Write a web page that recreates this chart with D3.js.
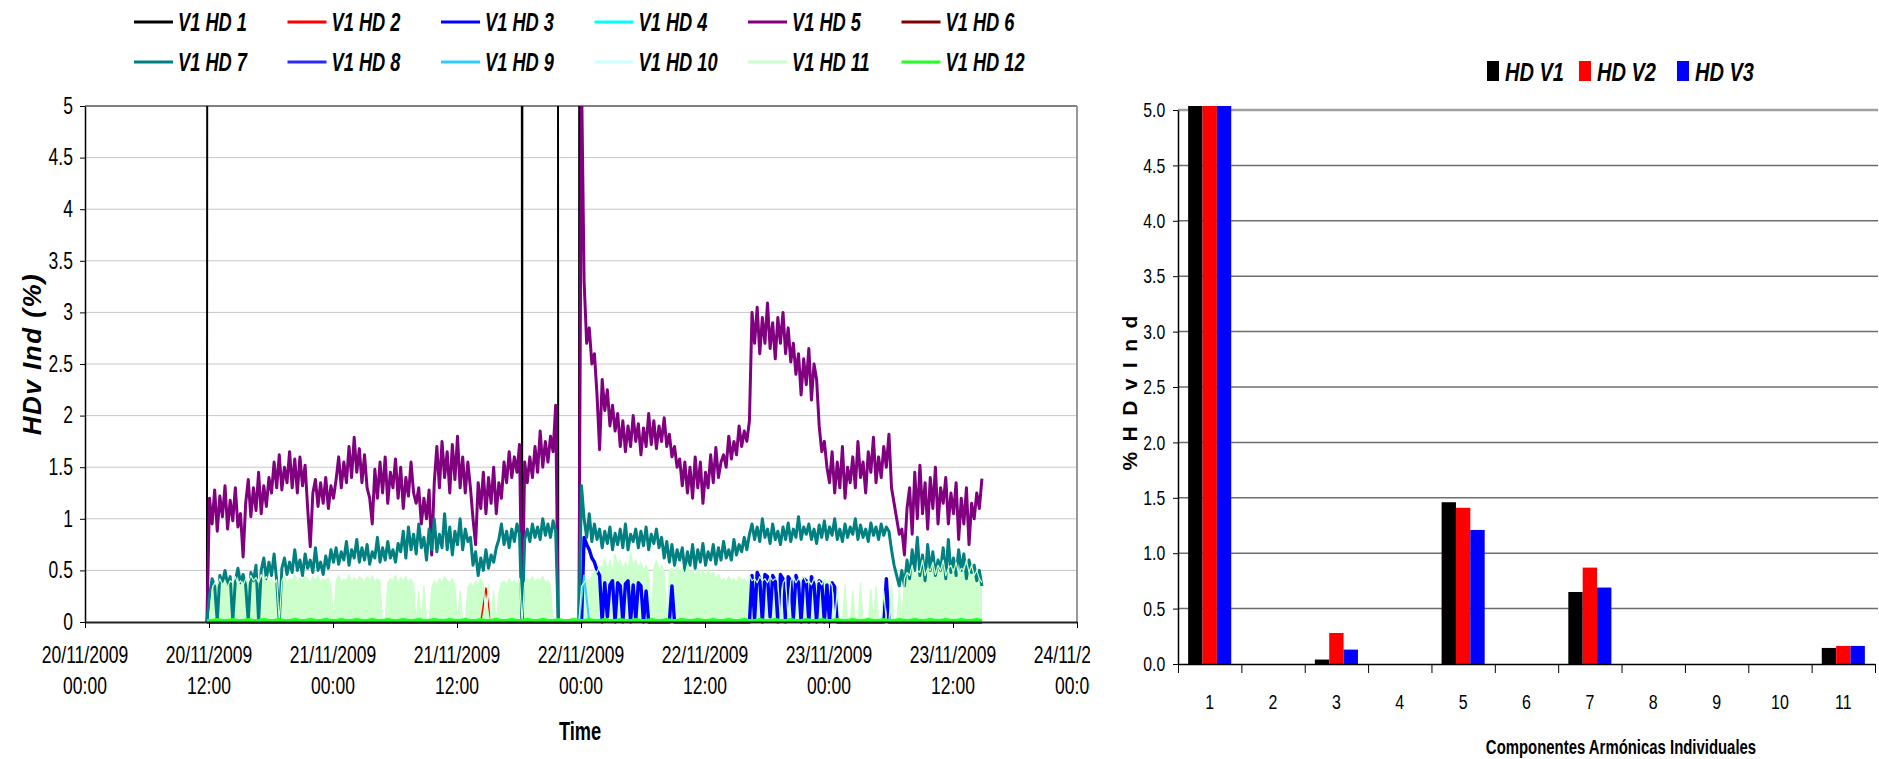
<!DOCTYPE html>
<html>
<head>
<meta charset="utf-8">
<script src="https://cdn.jsdelivr.net/npm/d3@7"></script>
<style>
  body { margin: 0; background: #fff; }
  svg { display: block; font-family: "Liberation Sans", Arial, sans-serif; }
</style>
</head>
<body>
<svg id="chart" width="1879" height="759"></svg>
<script>
// ---- left chart: samples start 20/11/2009 11:48 ----
const sampleStart = '2009-11-20 11:48';
const coarseStep = 30;   // minutes
const fineStep = 15;     // minutes
const timeDomain = ['2009-11-20 00:00', '2009-11-24 00:00'];
const timeTicks = ['2009-11-20 00:00', '2009-11-20 12:00', '2009-11-21 00:00', '2009-11-21 12:00',
  '2009-11-22 00:00', '2009-11-22 12:00', '2009-11-23 00:00', '2009-11-23 12:00', '2009-11-24 00:00'];
const leftYTicks = [0, 0.5, 1, 1.5, 2, 2.5, 3, 3.5, 4, 4.5, 5];

const seriesNames = ['V1 HD 1', 'V1 HD 2', 'V1 HD 3', 'V1 HD 4', 'V1 HD 5', 'V1 HD 6',
  'V1 HD 7', 'V1 HD 8', 'V1 HD 9', 'V1 HD 10', 'V1 HD 11', 'V1 HD 12'];
const seriesColors = ['#000000', '#ff0000', '#0000ff', '#00ffff', '#800080', '#800000',
  '#008080', '#2a2aff', '#33ccff', '#ccffff', '#ccffcc', '#22ff22'];

// 30 min samples
const hd1 = [
  0, 100, 100, 100, 100, 100, 100, 100, 100, 100,
  100, 100, 100, 100, 100, 100, 100, 100, 100, 100,
  100, 100, 100, 100, 100, 100, 100, 100, 100, 100,
  100, 100, 100, 100, 100, 100, 100, 100, 100, 100,
  100, 100, 100, 100, 100, 100, 100, 100, 100, 100,
  100, 100, 100, 100, 100, 100, 100, 100, 100, 100,
  100, 0, 100, 100, 100, 100, 100, 100, 0, 0,
  0, 0, 0, 100, 100, 100, 100, 100, 100, 100,
  100, 100, 100, 100, 100, 100, 100, 100, 100, 100,
  100, 100, 100, 100, 100, 100, 100, 100, 100, 100,
  100, 100, 100, 100, 100, 100, 100, 100, 100, 100,
  100, 100, 100, 100, 100, 100, 100, 100, 100, 100,
  100, 100, 100, 100, 100, 100, 100, 100, 100, 100,
  100, 100, 100, 100, 100, 100, 100, 100, 100, 100,
  100, 100, 100, 100, 100, 100, 100, 100, 100, 100,
  100];
const hd2 = [
  0, 0, 0, 0, 0, 0, 0, 0, 0, 0,  0, 0, 0, 0, 0, 0, 0, 0, 0, 0,
  0, 0, 0, 0, 0, 0, 0, 0, 0, 0,  0, 0, 0, 0, 0, 0, 0, 0, 0, 0,
  0, 0, 0, 0, 0, 0, 0, 0, 0, 0,  0, 0, 0, 0, 0.33, 0, 0, 0, 0, 0,
  0, 0, 0, 0, 0, 0, 0, 0, 0, 0,  0, 0, 0, 0, 0, 0, 0, 0, 0, 0,
  0, 0, 0, 0, 0, 0, 0, 0, 0, 0,  0, 0, 0, 0, 0, 0, 0, 0, 0, 0,
  0, 0, 0, 0, 0, 0, 0, 0, 0, 0,  0, 0, 0, 0, 0, 0, 0, 0, 0, 0,
  0, 0, 0, 0, 0, 0, 0, 0, 0, 0,  0, 0, 0, 0, 0, 0, 0, 0, 0, 0,
  0, 0, 0, 0, 0, 0, 0, 0, 0, 0,  0];
const hd4 = [
  0, 0, 0, 0, 0, 0, 0, 0, 0, 0,  0, 0, 0, 0, 0, 0, 0, 0, 0, 0,
  0, 0, 0, 0, 0, 0, 0, 0, 0, 0,  0, 0, 0, 0, 0, 0, 0, 0, 0, 0,
  0, 0, 0, 0, 0, 0, 0, 0, 0, 0,  0, 0, 0, 0, 0, 0, 0, 0, 0, 0,
  0, 0, 0, 0, 0, 0, 0, 0, 0, 0,  0, 0, 0, 0, 0, 0, 0, 0, 0, 0,
  0, 0, 0, 0, 0, 0, 0, 0, 0, 0,  0, 0, 0, 0, 0, 0, 0, 0, 0, 0,
  0, 0, 0, 0, 0, 0, 0, 0, 0, 0,  0, 0, 0, 0, 0, 0, 0, 0, 0, 0,
  0, 0, 0, 0, 0, 0, 0, 0, 0, 0,  0, 0, 0, 0, 0, 0, 0, 0, 0, 0,
  0, 0, 0, 0, 0, 0, 0, 0, 0, 0,  0];
const hd6 = hd4.slice();
const hd8 = hd4.slice();
const hd9 = [
  0, 0, 0, 0, 0, 0, 0, 0, 0, 0,  0, 0, 0, 0, 0, 0, 0, 0, 0, 0,
  0, 0, 0, 0, 0, 0, 0, 0, 0, 0,  0, 0, 0, 0, 0, 0, 0, 0, 0, 0,
  0, 0, 0, 0, 0, 0, 0, 0, 0, 0,  0, 0, 0, 0, 0, 0, 0, 0, 0, 0,
  0, 0, 0, 0, 0, 0, 0, 0, 0, 0,  0, 0, 0, 0.45, 0, 0, 0, 0, 0, 0,
  0, 0, 0, 0, 0, 0, 0, 0, 0, 0,  0, 0, 0, 0, 0, 0, 0, 0, 0, 0,
  0, 0, 0, 0, 0, 0, 0, 0, 0, 0,  0, 0, 0, 0, 0, 0, 0, 0, 0, 0,
  0, 0, 0, 0, 0, 0, 0, 0, 0, 0,  0, 0, 0, 0, 0, 0, 0, 0, 0, 0,
  0, 0, 0, 0, 0, 0, 0, 0, 0, 0,  0];
const hd10 = hd4.slice();
const hd12 = [
  0.01, 0.01, 0.02, 0.01, 0.01, 0.02, 0.01, 0.01, 0.02, 0.01,
  0.01, 0.02, 0.01, 0.01, 0.02, 0.01, 0.01, 0.02, 0.01, 0.01,
  0.02, 0.01, 0.01, 0.02, 0.01, 0.01, 0.02, 0.01, 0.01, 0.02,
  0.01, 0.01, 0.02, 0.01, 0.01, 0.02, 0.01, 0.01, 0.02, 0.01,
  0.01, 0.02, 0.01, 0.01, 0.02, 0.01, 0.01, 0.02, 0.01, 0.01,
  0.02, 0.01, 0.01, 0.02, 0.01, 0.01, 0.02, 0.01, 0.01, 0.02,
  0.01, 0.01, 0.02, 0.01, 0.01, 0.02, 0.01, 0.01, 0.02, 0.01,
  0.01, 0.02, 0.01, 0.01, 0.02, 0.01, 0.01, 0.02, 0.01, 0.01,
  0.02, 0.01, 0.01, 0.02, 0.01, 0.01, 0.02, 0.01, 0.01, 0.02,
  0.01, 0.01, 0.02, 0.01, 0.01, 0.02, 0.01, 0.01, 0.02, 0.01,
  0.01, 0.02, 0.01, 0.01, 0.02, 0.01, 0.01, 0.02, 0.01, 0.01,
  0.02, 0.01, 0.01, 0.02, 0.01, 0.01, 0.02, 0.01, 0.01, 0.02,
  0.01, 0.01, 0.02, 0.01, 0.01, 0.02, 0.01, 0.01, 0.02, 0.01,
  0.01, 0.02, 0.01, 0.01, 0.02, 0.01, 0.01, 0.02, 0.01, 0.01,
  0.02, 0.01, 0.01, 0.02, 0.01, 0.01, 0.02, 0.01, 0.01, 0.02,
  0.01];

// 15 min samples
const hd3 = [
  0, 0, 0, 0, 0, 0, 0, 0, 0, 0,  0, 0, 0, 0, 0, 0, 0, 0, 0, 0,
  0, 0, 0, 0, 0, 0, 0, 0, 0, 0,  0, 0, 0, 0, 0, 0, 0, 0, 0, 0,
  0, 0, 0, 0, 0, 0, 0, 0, 0, 0,  0, 0, 0, 0, 0, 0, 0, 0, 0, 0,
  0, 0, 0, 0, 0, 0, 0, 0, 0, 0,  0, 0, 0, 0, 0, 0, 0, 0, 0, 0,
  0, 0, 0, 0, 0, 0, 0, 0, 0, 0,  0, 0, 0, 0, 0, 0, 0, 0, 0, 0,
  0, 0, 0, 0, 0, 0, 0, 0, 0, 0,  0, 0, 0, 0, 0, 0, 0, 0, 0, 0,
  0, 0, 0, 0, 0, 0, 0, 0, 0, 0,  0, 0, 0, 0, 0, 0, 0, 0, 0, 0,
  0, 0, 0, 0, 0, 0, 0.82, 0.75, 0.7, 0.62,
  0.58, 0.5, 0.45, 0, 0.38, 0.05, 0.36, 0.4, 0, 0.38,
  0.35, 0, 0.37, 0.4, 0, 0.36, 0.02, 0.38, 0.35, 0,
  0.3, 0, 0, 0, 0, 0, 0, 0, 0, 0,
  0.35, 0, 0, 0, 0, 0, 0, 0, 0, 0,
  0, 0, 0, 0, 0, 0, 0, 0, 0, 0,
  0, 0, 0, 0, 0, 0, 0, 0, 0, 0,
  0, 0.45, 0.02, 0.48, 0.42, 0, 0.46, 0.44, 0.05, 0.45,
  0.4, 0, 0.46, 0.42, 0, 0.44, 0.4, 0.03, 0.45, 0.38,
  0, 0.42, 0.4, 0, 0.44, 0.36, 0, 0.4, 0.38, 0,
  0.36, 0, 0.38, 0.34, 0, 0, 0, 0, 0, 0,
  0, 0, 0, 0, 0, 0, 0, 0, 0, 0,
  0, 0, 0, 0.42, 0, 0, 0, 0, 0, 0,
  0, 0, 0, 0, 0, 0, 0, 0, 0, 0,  0, 0, 0, 0, 0, 0, 0, 0, 0, 0,
  0, 0, 0, 0, 0, 0, 0, 0, 0, 0,
  0];
const hd5 = [
  0, 1.2, 0.95, 1.28, 0.88, 1.22, 1.02, 1.32, 0.9, 1.18,
  0.98, 1.3, 0.92, 1.05, 0.63, 1.15, 1.38, 1.02, 1.3, 1.08,
  1.45, 1.05, 1.32, 1.12, 1.4, 1.25, 1.55, 1.3, 1.62, 1.28,
  1.5, 1.35, 1.65, 1.3, 1.58, 1.25, 1.6, 1.32, 1.52, 1.1,
  0.73, 1.25, 1.38, 1.12, 1.35, 1.15, 1.4, 1.1, 1.32, 1.2,
  1.38, 1.6, 1.3, 1.55, 1.35, 1.7, 1.4, 1.79, 1.45, 1.68,
  1.35, 1.62, 1.3, 1.2, 0.95, 1.48, 1.2, 1.55, 1.25, 1.6,
  1.15, 1.45, 1.3, 1.58, 1.2, 1.5, 1.1, 1.4, 1.22, 1.55,
  1.25, 1.15, 1.3, 0.95, 1.2, 1.0, 1.28, 0.65, 1.35, 1.7,
  1.3, 1.75, 1.4, 1.65, 1.25, 1.72, 1.38, 1.8, 1.3, 1.6,
  1.25, 1.55, 1.3, 1.0, 0.75, 1.35, 1.1, 1.45, 1.05, 1.4,
  1.15, 1.5, 1.05, 1.35, 1.2, 1.55, 1.35, 1.65, 1.4, 1.6,
  1.45, 1.72, 0, 1.55, 1.35, 1.6, 1.4, 1.7, 1.45, 1.85,
  1.5, 1.75, 1.55, 1.8, 1.65, 2.1, 0, 0, 0, 0,
  0, 0, 0, 0, 0, 5.3, 3.3, 2.7, 2.85, 2.5,
  2.6, 2.2, 1.67, 2.35, 2.05, 2.25, 1.9, 2.1, 1.85, 2.02,
  1.7, 1.95, 1.65, 1.9, 1.7, 2.0, 1.75, 1.92, 1.62, 1.88,
  1.7, 2.02, 1.72, 1.95, 1.68, 1.9, 1.75, 1.98, 1.7, 1.82,
  1.6, 1.7, 1.5, 1.58, 1.32, 1.55, 1.25, 1.5, 1.2, 1.6,
  1.3, 1.55, 1.15, 1.45, 1.3, 1.62, 1.35, 1.69, 1.4, 1.55,
  1.62, 1.5, 1.8, 1.58, 1.75, 1.62, 1.9, 1.7, 1.85, 1.75,
  1.95, 3.0, 2.7, 3.05, 2.6, 2.95, 2.7, 3.09, 2.65, 2.9,
  2.55, 2.95, 2.7, 3.0, 2.6, 2.85, 2.52, 2.7, 2.4, 2.6,
  2.2, 2.55, 2.3, 2.65, 2.15, 2.5, 2.35, 1.9, 1.65, 1.75,
  1.5, 1.35, 1.65, 1.25, 1.55, 1.3, 1.7, 1.2, 1.5, 1.35,
  1.6, 1.3, 1.75, 1.4, 1.55, 1.25, 1.65, 1.45, 1.79, 1.35,
  1.6, 1.4, 1.7, 1.5, 1.82, 1.3, 1.15, 1.0, 0.85, 0.9,
  0.65, 1.1, 1.3, 0.85, 1.45, 1.0, 1.52, 1.05, 1.35, 0.9,
  1.4, 1.1, 1.5, 0.95, 1.3, 1.15, 1.4, 0.95, 1.25, 1.05,
  1.35, 0.8, 1.2, 0.95, 1.3, 0.75, 1.15, 1.0, 1.25, 1.1,
  1.39];
const hd7 = [
  0, 0.25, 0.42, 0.35, 0, 0.45, 0.38, 0.5, 0.36, 0.44,
  0, 0.4, 0.52, 0.38, 0.46, 0.35, 0, 0.48, 0.4, 0.55,
  0, 0.5, 0.62, 0.42, 0.58, 0.45, 0.66, 0.4, 0, 0.52,
  0.62, 0.46, 0.58, 0.48, 0.7, 0.5, 0.6, 0.45, 0.66, 0.52,
  0.6, 0.48, 0.72, 0.5, 0.58, 0.46, 0.64, 0.52, 0.7, 0.58,
  0.72, 0.56, 0.68, 0.6, 0.78, 0.55, 0.7, 0.62, 0.8, 0.58,
  0.72, 0.6, 0.75, 0.56, 0.68, 0.62, 0.82, 0.58, 0.72, 0.6,
  0.78, 0.62, 0.7, 0.58, 0.76, 0.68, 0.88, 0.62, 0.92, 0.7,
  0.85, 0.66, 0.95, 0.72, 0.82, 0.6, 0.9, 0.7, 1.0, 0.68,
  0.85, 0.72, 1.05, 0.7, 0.92, 0.65, 0.88, 0.75, 1.0, 0.7,
  0.9, 0.78, 0.82, 0.55, 0.68, 0.45, 0.62, 0.5, 0.7, 0.52,
  0.65, 0.58, 0.72, 0.8, 0.95, 0.75, 0.88, 0.72, 0.9, 0.78,
  0.95, 0.85, 0, 0.8, 0.9, 0.78, 0.95, 0.82, 0.92, 0.8,
  1.0, 0.84, 0.95, 0.82, 0.98, 0.88, 0, 0, 0, 0,
  0, 0, 0, 0, 0, 1.32, 1.0, 0.82, 1.05, 0.78,
  0.95, 0.8, 0.9, 0.72, 0.88, 0.76, 0.92, 0.7, 0.86, 0.75,
  0.9, 0.72, 0.95, 0.7, 0.85, 0.78, 0.9, 0.72, 0.88, 0.74,
  0.92, 0.7, 0.85, 0.76, 0.9, 0.72, 0.82, 0.62, 0.78, 0.58,
  0.75, 0.55, 0.7, 0.6, 0.72, 0.5, 0.68, 0.55, 0.75, 0.52,
  0.7, 0.58, 0.76, 0.55, 0.68, 0.6, 0.75, 0.56, 0.72, 0.6,
  0.78, 0.62, 0.7, 0.6, 0.8, 0.65, 0.75, 0.68, 0.82, 0.7,
  0.85, 0.95, 0.8, 0.92, 0.78, 1.0, 0.82, 0.9, 0.76, 0.95,
  0.8, 0.88, 0.75, 0.92, 0.8, 0.96, 0.78, 0.9, 0.82, 1.02,
  0.8, 0.92, 0.85, 0.95, 0.8, 0.9, 0.76, 0.94, 0.82, 0.98,
  0.8, 0.92, 0.84, 1.0, 0.8, 0.9, 0.78, 0.95, 0.82, 0.92,
  0.85, 1.0, 0.8, 0.94, 0.82, 0.9, 0.78, 0.96, 0.84, 0.92,
  0.8, 0.95, 0.84, 0.92, 0.88, 0.7, 0.55, 0.45, 0.35, 0.5,
  0.35, 0.6, 0.42, 0.7, 0.5, 0.82, 0.45, 0.65, 0.4, 0.75,
  0.5, 0.68, 0.45, 0.6, 0.5, 0.72, 0.42, 0.8, 0.48, 0.62,
  0.45, 0.7, 0.5, 0.66, 0.42, 0.6, 0.48, 0.55, 0.4, 0.5,
  0.35];
const hd11 = [
  0, 0, 0.32, 0.38, 0.35, 0.42, 0.36, 0.4, 0.34, 0.4,
  0.38, 0.44, 0.36, 0.4, 0.35, 0.42, 0.38, 0.45, 0.4, 0.43,
  0.38, 0.46, 0.4, 0.44, 0.39, 0.42, 0.37, 0.41, 0, 0.4,
  0.45, 0.38, 0.42, 0.4, 0.46, 0.38, 0.43, 0.4, 0.44, 0.42,
  0.38, 0.44, 0.4, 0.45, 0.38, 0.42, 0.4, 0.43, 0.36, 0,
  0.4, 0.45, 0.38, 0.42, 0.4, 0.46, 0.38, 0.43, 0.4, 0.44,
  0.42, 0.38, 0.44, 0.4, 0.45, 0.38, 0.42, 0.4, 0, 0,
  0.38, 0.42, 0.4, 0.45, 0.38, 0.43, 0.4, 0.44, 0.38, 0.42,
  0.36, 0, 0.3, 0, 0.35, 0, 0, 0.32, 0.4, 0.36,
  0.42, 0.38, 0.44, 0.4, 0.38, 0.42, 0.35, 0, 0.3, 0,
  0, 0.34, 0.38, 0.34, 0.4, 0.36, 0.42, 0.38, 0, 0.36,
  0, 0.3, 0, 0.28, 0.38, 0.4, 0.36, 0.42, 0.38, 0.4,
  0.36, 0.42, 0, 0.38, 0.42, 0.4, 0.44, 0.38, 0.42, 0.4,
  0.44, 0.38, 0.4, 0.36, 0, 0, 0, 0, 0, 0,
  0, 0, 0, 0, 0, 0.35, 0.38, 0.42, 0.4, 0.45,
  0.5, 0.48, 0.55, 0.52, 0.62, 0.5, 0.6, 0.48, 0.66, 0.55,
  0.6, 0.52, 0.58, 0.5, 0.68, 0.55, 0.6, 0.52, 0.58, 0.5,
  0.55, 0.48, 0, 0.52, 0.6, 0.5, 0.55, 0.48, 0, 0.5,
  0.52, 0.45, 0.55, 0.48, 0.52, 0.45, 0.56, 0.48, 0.5, 0.44,
  0.52, 0.46, 0.5, 0.44, 0.52, 0.45, 0.48, 0.42, 0.46, 0.4,
  0.42, 0.38, 0.44, 0.4, 0.42, 0.38, 0.44, 0.4, 0.42, 0.38,
  0.45, 0.4, 0.42, 0.38, 0.44, 0.4, 0.42, 0.38, 0.44, 0.4,
  0.42, 0.4, 0, 0.38, 0.42, 0, 0.4, 0.44, 0.38, 0.42,
  0.4, 0.44, 0.38, 0.4, 0.36, 0.42, 0.38, 0.4, 0.36, 0.42,
  0.38, 0.4, 0.35, 0, 0.32, 0, 0, 0.36, 0, 0,
  0.3, 0, 0, 0.38, 0, 0, 0, 0.32, 0, 0.35,
  0, 0, 0.3, 0, 0, 0.36, 0, 0, 0.33, 0,
  0.42, 0.48, 0.45, 0.55, 0.42, 0.5, 0.48, 0.6, 0.45, 0.52,
  0.5, 0.58, 0.46, 0.55, 0.5, 0.6, 0.45, 0.52, 0.55, 0.48,
  0.58, 0.46, 0.52, 0.5, 0.6, 0.48, 0.55, 0.45, 0.5, 0.42,
  0.38];

// ---- right chart: individual harmonic components ----
const harmonicCategories = ['1', '2', '3', '4', '5', '6', '7', '8', '9', '10', '11'];
const barKeys = ['HD V1', 'HD V2', 'HD V3'];
const barColors = ['#000000', '#ff0000', '#0000ff'];
const hdV1 = [100, 0, 0.04, 0, 1.46, 0, 0.65, 0, 0, 0, 0.145];
const hdV2 = [100, 0, 0.28, 0, 1.41, 0, 0.87, 0, 0, 0, 0.163];
const hdV3 = [100, 0, 0.13, 0, 1.21, 0, 0.69, 0, 0, 0, 0.163];
const rightYTicks = [0, 0.5, 1, 1.5, 2, 2.5, 3, 3.5, 4, 4.5, 5];


const svg = d3.select('#chart');
const parseTime = d3.timeParse('%Y-%m-%d %H:%M');
const fmtDate = d3.timeFormat('%d/%m/%Y');
const fmtHour = d3.timeFormat('%H:%M');
// the source lettering is condensed, so text gets squeezed sideways
const narrow = k => 'scale(' + k + ',1)';

const L = {left: 85, right: 1077, top: 106, bottom: 622};
const x = d3.scaleTime()
  .domain(timeDomain.map(parseTime))
  .range([L.left, L.right]);
const y = d3.scaleLinear().domain([0, 5]).range([L.bottom, L.top]);
const t0 = parseTime(sampleStart);

const allSeries = [hd1, hd2, hd3, hd4, hd5, hd6, hd7, hd8, hd9, hd10, hd11, hd12];
const seriesStep = [coarseStep, coarseStep, fineStep, coarseStep, fineStep, coarseStep,
  fineStep, coarseStep, coarseStep, coarseStep, fineStep, coarseStep];
const seriesWidth = [2, 1.5, 3.4, 1.5, 3, 1.5, 3, 1.5, 2, 1.5, 1.2, 4];

const defs = svg.append('defs');
defs.append('clipPath').attr('id', 'plotClip')
  .append('rect').attr('x', L.left).attr('y', L.top)
  .attr('width', L.right - L.left).attr('height', L.bottom - L.top + 4);
defs.append('clipPath').attr('id', 'leftClip')
  .append('rect').attr('x', 0).attr('y', 0).attr('width', 1090).attr('height', 759);

// gridlines + frame
svg.append('g')
  .selectAll('line')
  .data(leftYTicks.filter(d => d > 0 && d < 5))
  .enter().append('line')
  .attr('x1', L.left).attr('x2', L.right)
  .attr('y1', d => y(d)).attr('y2', d => y(d))
  .attr('stroke', '#c8c8c8').attr('stroke-width', 1);
svg.append('line')
  .attr('x1', L.left).attr('x2', L.right)
  .attr('y1', y(5)).attr('y2', y(5))
  .attr('stroke', '#808080').attr('stroke-width', 2);
svg.append('line')
  .attr('x1', L.right).attr('x2', L.right)
  .attr('y1', L.top).attr('y2', L.bottom)
  .attr('stroke', '#999').attr('stroke-width', 2);

// series
const plot = svg.append('g').attr('clip-path', 'url(#plotClip)');
const lineFor = step => d3.line()
  .x((d, i) => x(d3.timeMinute.offset(t0, i * step)))
  .y(d => y(d));

// HD 11 swings so fast that it prints as a solid band
plot.append('path')
  .datum(hd11)
  .attr('d', d3.area()
    .x((d, i) => x(d3.timeMinute.offset(t0, i * fineStep)))
    .y0(y(0))
    .y1(d => y(d)))
  .attr('fill', seriesColors[10]);

allSeries.forEach((s, i) => {
  plot.append('path')
    .datum(s)
    .attr('d', lineFor(seriesStep[i]))
    .attr('fill', 'none')
    .attr('stroke', seriesColors[i])
    .attr('stroke-width', seriesWidth[i])
    .attr('stroke-linejoin', 'round');
});

// axes
const yAxis = svg.append('g')
  .attr('transform', 'translate(' + L.left + ',0)')
  .call(d3.axisLeft(y).tickValues(leftYTicks).tickSize(5).tickSizeOuter(0).tickPadding(11)
    .tickFormat(d3.format('~g')));
yAxis.select('.domain').attr('stroke', '#000').attr('stroke-width', 1.5);
yAxis.selectAll('.tick line').attr('stroke', '#000');
yAxis.selectAll('text').style('font-size', '23px').attr('fill', '#000').attr('transform', narrow(0.76));

const xAxis = svg.append('g')
  .attr('transform', 'translate(0,' + L.bottom + ')')
  .call(d3.axisBottom(x).tickValues(timeTicks.map(parseTime)).tickSize(6).tickSizeOuter(0)
    .tickFormat(''));
xAxis.select('.domain').attr('stroke', '#222').attr('stroke-width', 2);
xAxis.selectAll('.tick line').attr('stroke', '#000');

const xLabels = svg.append('g').attr('clip-path', 'url(#leftClip)')
  .selectAll('g')
  .data(timeTicks.map(parseTime))
  .enter().append('g')
  .attr('transform', d => 'translate(' + x(d) + ',0) ' + narrow(0.73))
  .append('text')
  .attr('text-anchor', 'middle')
  .style('font-size', '24px');
xLabels.append('tspan').attr('x', 0).attr('y', 663).text(d => fmtDate(d));
xLabels.append('tspan').attr('x', 0).attr('y', 694).text(d => fmtHour(d));

// axis titles
svg.append('text')
  .attr('transform', 'translate(580,740) ' + narrow(0.73))
  .attr('text-anchor', 'middle')
  .style('font-size', '25px').style('font-weight', 'bold')
  .text('Time');

svg.append('text')
  .attr('transform', 'translate(41,354) rotate(-90)')
  .attr('text-anchor', 'middle')
  .style('font-size', '26px').style('font-weight', 'bold').style('font-style', 'italic')
  .style('letter-spacing', '1.5px')
  .text('HDv Ind (%)');

// legend
const legend = svg.append('g')
  .selectAll('g')
  .data(seriesNames)
  .enter().append('g')
  .attr('transform', (d, i) => 'translate(' + (134 + (i % 6) * 153.5) + ',' + (i < 6 ? 22 : 62) + ')');
legend.append('line')
  .attr('x1', 0).attr('x2', 39)
  .attr('stroke', (d, i) => seriesColors[i])
  .attr('stroke-width', 3);
legend.append('text')
  .attr('transform', 'translate(44,0) ' + narrow(0.73))
  .attr('dy', '0.36em')
  .style('font-size', '25px').style('font-weight', 'bold').style('font-style', 'italic')
  .text(d => d);


// ---- right chart ----
const R = {left: 1178, right: 1875, top: 110, bottom: 664};
const xb = d3.scaleBand()
  .domain(harmonicCategories)
  .range([R.left, R.right])
  .paddingInner(0.32)
  .paddingOuter(0.16);
const xs = d3.scaleBand().domain(barKeys).range([0, xb.bandwidth()]);
const yb = d3.scaleLinear().domain([0, 5]).range([R.bottom, R.top]);
const xEdges = d3.scaleLinear().domain([0, harmonicCategories.length]).range([R.left, R.right]);

defs.append('clipPath').attr('id', 'barClip')
  .append('rect').attr('x', R.left).attr('y', R.top - 4)
  .attr('width', R.right - R.left).attr('height', R.bottom - R.top + 4);

svg.append('g')
  .selectAll('line')
  .data(rightYTicks.filter(d => d > 0))
  .enter().append('line')
  .attr('x1', R.left).attr('x2', 1878)
  .attr('y1', d => yb(d)).attr('y2', d => yb(d))
  .attr('stroke', d => d === 5 ? '#a0a0a0' : '#6e6e6e')
  .attr('stroke-width', d => d === 5 ? 2.5 : 1.5);

const barData = harmonicCategories.map((c, i) => ({
  cat: c,
  values: [hdV1[i], hdV2[i], hdV3[i]]
}));

svg.append('g').attr('clip-path', 'url(#barClip)')
  .selectAll('g')
  .data(barData)
  .enter().append('g')
  .attr('transform', d => 'translate(' + xb(d.cat) + ',0)')
  .selectAll('rect')
  .data(d => d.values.map((v, j) => ({key: barKeys[j], v: v, j: j})))
  .enter().append('rect')
  .attr('x', d => xs(d.key))
  .attr('width', xs.bandwidth())
  .attr('y', d => yb(d.v))
  .attr('height', d => R.bottom - yb(d.v))
  .attr('fill', d => barColors[d.j]);

const yAxisR = svg.append('g')
  .attr('transform', 'translate(' + R.left + ',0)')
  .call(d3.axisLeft(yb).tickValues(rightYTicks).tickSize(5).tickSizeOuter(0).tickPadding(12)
    .tickFormat(d3.format('.1f')));
yAxisR.select('.domain').attr('stroke', '#000').attr('stroke-width', 1.5);
yAxisR.selectAll('.tick line').attr('stroke', '#000');
yAxisR.selectAll('text').style('font-size', '21px').attr('fill', '#000').attr('transform', narrow(0.75));

const xAxisR = svg.append('g')
  .attr('transform', 'translate(0,' + R.bottom + ')')
  .call(d3.axisBottom(xEdges).tickValues(d3.range(0, harmonicCategories.length + 1)).tickSize(9)
    .tickSizeOuter(0).tickFormat(''));
xAxisR.select('.domain').attr('stroke', '#000').attr('stroke-width', 1.5);
xAxisR.selectAll('.tick line').attr('stroke', '#000');

svg.append('g')
  .selectAll('text')
  .data(harmonicCategories)
  .enter().append('text')
  .attr('transform', d => 'translate(' + (xb(d) + xb.bandwidth() / 2) + ',709) ' + narrow(0.76))
  .attr('text-anchor', 'middle')
  .style('font-size', '21px')
  .text(d => d);

svg.append('text')
  .attr('transform', 'translate(1621,754) ' + narrow(0.71))
  .attr('text-anchor', 'middle')
  .style('font-size', '21px').style('font-weight', 'bold')
  .text('Componentes Armónicas Individuales');

svg.append('text')
  .attr('transform', 'translate(1137,392) rotate(-90)')
  .attr('text-anchor', 'middle')
  .style('font-size', '21px').style('font-weight', 'bold')
  .style('letter-spacing', '2.3px')
  .text('% H D v I n d');

const legendR = svg.append('g')
  .selectAll('g')
  .data(barKeys)
  .enter().append('g')
  .attr('transform', (d, i) => 'translate(' + [1487, 1579, 1677][i] + ',61)');
legendR.append('rect')
  .attr('width', 12).attr('height', 20)
  .attr('fill', (d, i) => barColors[i]);
legendR.append('text')
  .attr('transform', 'translate(18,20) ' + narrow(0.77))
  .style('font-size', '26px').style('font-weight', 'bold').style('font-style', 'italic')
  .text(d => d);
</script>
</body>
</html>
